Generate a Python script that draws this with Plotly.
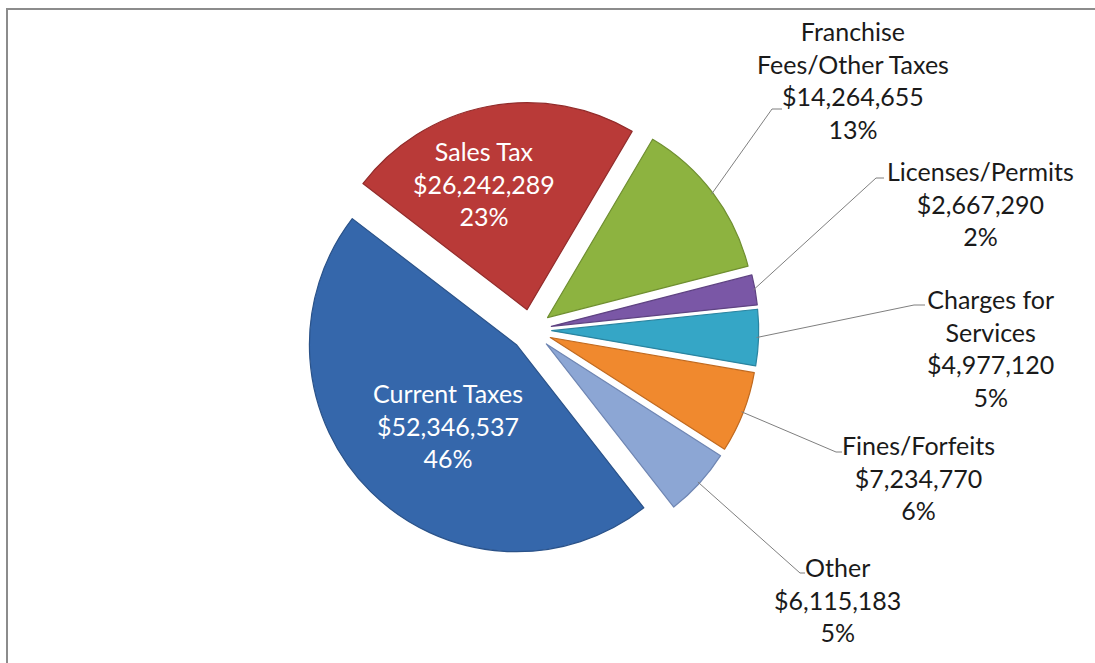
import math
import plotly.graph_objects as go

# Revenue sources (in dollars), in the order they are drawn clockwise
categories = [
    "Current Taxes",
    "Sales Tax",
    "Franchise Fees/Other Taxes",
    "Licenses/Permits",
    "Charges for Services",
    "Fines/Forfeits",
    "Other",
]
display_names = [
    "Current Taxes",
    "Sales Tax",
    "Franchise<br>Fees/Other Taxes",
    "Licenses/Permits",
    "Charges for<br>Services",
    "Fines/Forfeits",
    "Other",
]
values = [52346537, 26242289, 14264655, 2667290, 4977120, 7234770, 6115183]
percent_labels = ["46%", "23%", "13%", "2%", "5%", "6%", "5%"]

colors = ["#3567ab", "#b93a38", "#8db340", "#7a57a6", "#35a6c6", "#f0892e", "#8ca6d4"]
edge_colors = ["#2a5289", "#922c2b", "#6f8f30", "#5f4382", "#2a84a0", "#c06a20", "#6f86b3"]

# Figure geometry (pixels)
W, H = 1095, 663
CX, CY = 531, 330          # pie centre
R = 207                    # pie radius
PULL = 0.10                # explode fraction
ROTATION = 142             # start angle of first slice, clockwise from 12 o'clock

# Label placement (pixel centres of the text blocks)
inside = {0: (448, 425), 1: (484, 183)}
outside = {
    2: {"text": (853, 80), "elbow": (772, 109), "tail": (782, 109)},
    3: {"text": (980, 203), "elbow": (876, 178), "tail": (884, 178)},
    4: {"text": (990, 348), "elbow": (914, 305), "tail": (925, 305)},
    5: {"text": (918, 477), "elbow": (836, 452), "tail": (842, 452)},
    6: {"text": (837, 599), "elbow": (800, 573), "tail": (805, 573)},
}

FONT = "Lato, 'Open Sans', sans-serif"
FONT_SIZE = 25


def px_to_paper(x, y):
    return x / W, 1 - y / H


half = R * (1 + PULL)
domain_x = [(CX - half) / W, (CX + half) / W]
domain_y = [1 - (CY + half) / H, 1 - (CY - half) / H]

fig = go.Figure(
    go.Pie(
        labels=categories,
        values=values,
        sort=False,
        direction="clockwise",
        rotation=ROTATION,
        pull=[PULL] * len(values),
        marker=dict(colors=colors, line=dict(color=edge_colors, width=1.2)),
        textinfo="none",
        hoverinfo="label+value+percent",
        showlegend=False,
        domain=dict(x=domain_x, y=domain_y),
    )
)

total = sum(values)
annotations = []
shapes = []


def label_text(i):
    return f"{display_names[i]}<br>${values[i]:,}<br>{percent_labels[i]}"


def text_annotation(i, pos, color):
    x, y = px_to_paper(*pos)
    return dict(
        x=x, y=y, xref="paper", yref="paper", showarrow=False,
        xanchor="center", yanchor="middle",
        text=label_text(i), align="center",
        font=dict(family=FONT, size=FONT_SIZE, color=color),
    )


# Labels drawn inside the two largest slices
for i, pos in inside.items():
    annotations.append(text_annotation(i, pos, "white"))

# Outside labels with leader lines starting at each slice's outer edge
cum = 0
for i, v in enumerate(values):
    mid = math.radians(ROTATION + (cum + v / 2) / total * 360)
    cum += v
    if i not in outside:
        continue
    spec = outside[i]
    reach = R * (1 + PULL) - 2
    ax_px = CX + reach * math.sin(mid)
    ay_px = CY - reach * math.cos(mid)
    pts = [px_to_paper(ax_px, ay_px), px_to_paper(*spec["elbow"]), px_to_paper(*spec["tail"])]
    path = "M {} {} L {} {} L {} {}".format(*[c for p in pts for c in p])
    shapes.append(dict(type="path", xref="paper", yref="paper", path=path,
                       line=dict(color="#7f7f7f", width=1)))
    annotations.append(text_annotation(i, spec["text"], "#1a1a1a"))

# Chart frame: top and left border lines
fx0, fy_bottom = px_to_paper(7, H)
fx1, fy_top = px_to_paper(W, 9)
shapes.append(dict(
    type="path", xref="paper", yref="paper",
    path=f"M {fx0} {fy_bottom} L {fx0} {fy_top} L {fx1} {fy_top}",
    line=dict(color="#8c8c8c", width=2),
))

fig.update_layout(
    width=W, height=H,
    margin=dict(l=0, r=0, t=0, b=0),
    paper_bgcolor="white",
    plot_bgcolor="white",
    annotations=annotations,
    shapes=shapes,
)

fig.write_html("out.html")
